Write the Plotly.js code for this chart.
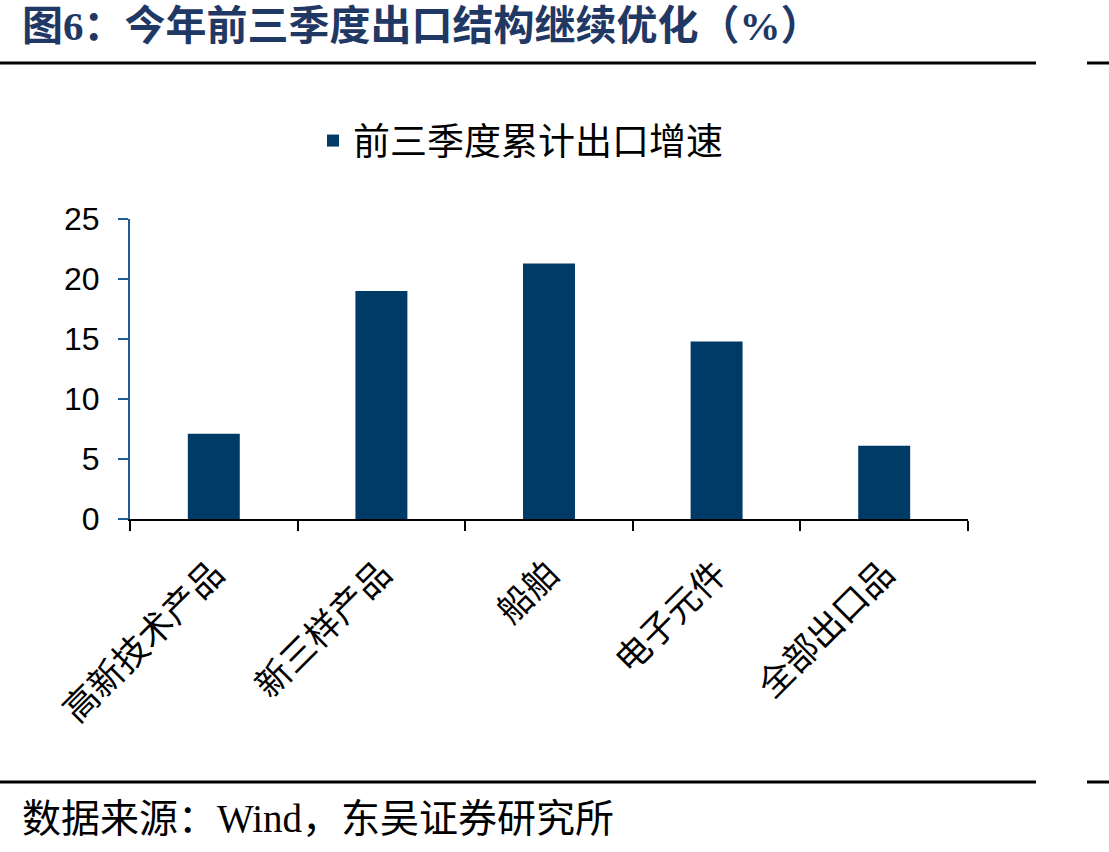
<!DOCTYPE html>
<html>
<head>
<meta charset="utf-8">
<script src="https://cdn.plot.ly/plotly-3.0.1.min.js"></script>
<style>
  html, body { margin: 0; padding: 0; background: #fff; }
  #chart { width: 1109px; height: 852px; }
</style>
</head>
<body>
<div id="chart"></div>
<script>
// 前三季度累计出口增速 (%)
const categories = ['高新技术产品', '新三样产品', '船舶', '电子元件', '全部出口品'];
const exportGrowth = [7.1, 19.0, 21.3, 14.8, 6.1];
const seriesName = '前三季度累计出口增速';
const yTicks = [0, 5, 10, 15, 20, 25];

const titleText = '图6：今年前三季度出口结构继续优化（%）';
const sourceText = '数据来源：Wind，东吴证券研究所';

const CJK = '"Noto Sans CJK SC", sans-serif';
const NAVY = '#003a66';

// plot area in pixels: x 130..968, y 219..519
const W = 1109, H = 852;
const L = 130, R = 968, T = 219, B = 519;
const px = x => (x - L) / (R - L);
const py = y => (B - y) / (B - T);

const traces = [
  {
    type: 'bar',
    x: categories,
    y: exportGrowth,
    name: seriesName,
    marker: { color: NAVY, line: { width: 0 } },
    hoverinfo: 'x+y',
  },
];

const layout = {
  width: W,
  height: H,
  paper_bgcolor: '#fff',
  plot_bgcolor: '#fff',
  margin: { l: L, r: W - R, t: T, b: H - B },
  bargap: 0.69,
  showlegend: true,
  font: { family: CJK, color: '#000', size: 30 },
  legend: {
    orientation: 'h',
    x: px(313), xanchor: 'left',
    y: py(141), yanchor: 'middle',
    font: { family: CJK, size: 37, color: '#000' },
    bgcolor: 'rgba(0,0,0,0)',
  },
  xaxis: {
    type: 'category',
    showline: true,
    linecolor: '#000',
    linewidth: 2,
    ticks: 'outside',
    tickson: 'boundaries',
    ticklen: 10,
    tickwidth: 2,
    tickcolor: '#000',
    tickangle: -45,
    ticklabelstandoff: 18,
    tickfont: { family: CJK, size: 35, color: '#000' },
    showgrid: false,
    zeroline: false,
  },
  yaxis: {
    range: [0, 25],
    tickvals: yTicks,
    showline: true,
    linecolor: '#1f5c99',
    linewidth: 2,
    ticks: 'outside',
    ticklen: 10,
    tickwidth: 2,
    tickcolor: '#1f5c99',
    ticklabelstandoff: 12,
    tickfont: { family: 'Liberation Sans, Arial, sans-serif', size: 32, color: '#000' },
    showgrid: false,
    zeroline: false,
  },
  shapes: [
    { type: 'line', xref: 'paper', yref: 'paper', x0: px(0), x1: px(1036), y0: py(63), y1: py(63),
      line: { color: '#000', width: 3 } },
    { type: 'line', xref: 'paper', yref: 'paper', x0: px(1087), x1: px(1109), y0: py(63), y1: py(63),
      line: { color: '#000', width: 3 } },
    { type: 'line', xref: 'paper', yref: 'paper', x0: px(0), x1: px(1036), y0: py(782), y1: py(782),
      line: { color: '#000', width: 3 } },
    { type: 'line', xref: 'paper', yref: 'paper', x0: px(1087), x1: px(1109), y0: py(782), y1: py(782),
      line: { color: '#000', width: 3 } },
  ],
  annotations: [
    {
      xref: 'paper', yref: 'paper',
      x: px(20), y: py(26), xanchor: 'left', yanchor: 'middle',
      text: '<b>' + titleText + '</b>',
      showarrow: false,
      font: { family: '"Liberation Serif", ' + CJK, size: 41, color: '#1f3864' },
    },
    {
      xref: 'paper', yref: 'paper',
      x: px(20), y: py(818), xanchor: 'left', yanchor: 'middle',
      text: sourceText,
      showarrow: false,
      font: { family: '"Liberation Serif", ' + CJK, size: 39, color: '#000' },
    },
  ],
};

Plotly.newPlot('chart', traces, layout, { displayModeBar: false, responsive: false });
</script>
</body>
</html>
